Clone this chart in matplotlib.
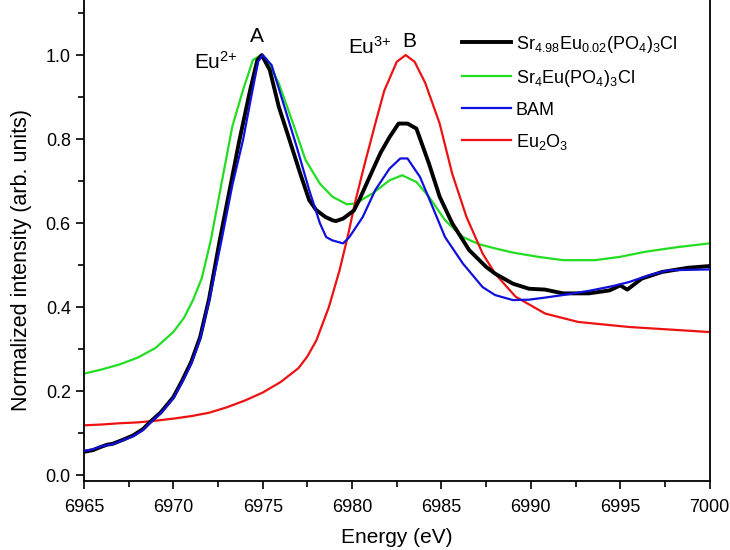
import numpy as np
import matplotlib
matplotlib.use("Agg")
import matplotlib.pyplot as plt

plt.rcParams['font.family'] = ['Liberation Sans', 'DejaVu Sans']
plt.rcParams['mathtext.fontset'] = 'custom'
plt.rcParams['mathtext.rm'] = 'Liberation Sans'
plt.rcParams['mathtext.it'] = 'Liberation Sans:italic'

# Sr4.98Eu0.02(PO4)3Cl (black)
x_blk = [6965, 6965.5, 6965.9, 6966.3, 6966.6, 6967.2, 6967.75, 6968.3, 6968.7, 6969.3,
         6970.0, 6970.5, 6971.0, 6971.5, 6972.0, 6972.6, 6973.15, 6973.7, 6974.3, 6974.7,
         6974.95, 6975.4, 6975.9, 6976.5, 6977.1, 6977.6, 6978.0, 6978.5, 6978.9, 6979.1,
         6979.5, 6980.1, 6980.4, 6981.15, 6981.6, 6982.1, 6982.6, 6983.1, 6983.6, 6984.3,
         6984.9, 6985.6, 6986.55, 6987.5, 6988.0, 6989.0, 6989.9, 6990.8, 6991.8, 6993.25,
         6994.4, 6995.0, 6995.4, 6996.2, 6997.35, 6998.8, 7000.0]
y_blk = [0.056, 0.060, 0.067, 0.073, 0.075, 0.085, 0.095, 0.110, 0.127, 0.150,
         0.186, 0.226, 0.270, 0.329, 0.420, 0.560, 0.679, 0.798, 0.917, 0.988,
         1.0, 0.964, 0.877, 0.798, 0.718, 0.655, 0.631, 0.615, 0.607, 0.605,
         0.611, 0.630, 0.655, 0.726, 0.768, 0.805, 0.837, 0.837, 0.825, 0.742,
         0.663, 0.600, 0.536, 0.496, 0.480, 0.456, 0.444, 0.442, 0.433, 0.433,
         0.440, 0.452, 0.442, 0.468, 0.484, 0.494, 0.498]

# Sr4Eu(PO4)3Cl (green)
x_grn = [6965, 6966, 6967, 6968, 6969, 6970, 6970.6, 6971.1, 6971.6, 6972.1,
         6972.8, 6973.3, 6973.9, 6974.45, 6974.9, 6975.2, 6975.9, 6976.7, 6977.4, 6978.2,
         6978.9, 6979.7, 6980.2, 6981.15, 6982.1, 6982.8, 6983.6, 6984.3, 6985.2, 6986.2,
         6987.1, 6988.0, 6989.0, 6990.4, 6991.8, 6993.6, 6995.0, 6996.4, 6998.2, 7000.0]
y_grn = [0.242, 0.252, 0.264, 0.280, 0.303, 0.341, 0.375, 0.417, 0.470, 0.560,
         0.718, 0.830, 0.917, 0.988, 1.0, 0.992, 0.933, 0.837, 0.750, 0.694,
         0.663, 0.645, 0.647, 0.671, 0.702, 0.714, 0.698, 0.663, 0.607, 0.567,
         0.550, 0.540, 0.530, 0.520, 0.512, 0.512, 0.520, 0.532, 0.543, 0.552]

# BAM (blue)
x_blu = [6965, 6965.5, 6965.9, 6966.3, 6966.6, 6967.2, 6967.75, 6968.3, 6968.7, 6969.3,
         6970.0, 6970.5, 6971.0, 6971.5, 6972.0, 6972.7, 6973.3, 6973.9, 6974.4, 6974.75,
         6975.0, 6975.5, 6976.1, 6976.9, 6977.6, 6978.2, 6978.55, 6978.9, 6979.5, 6979.85,
         6980.6, 6981.3, 6982.1, 6982.7, 6983.1, 6983.8, 6984.5, 6985.2, 6986.2, 6987.3,
         6988.0, 6989.0, 6989.9, 6990.8, 6991.8, 6993.25, 6994.55, 6995.5, 6996.6, 6997.7,
         7000.0]
y_blu = [0.058, 0.062, 0.068, 0.072, 0.074, 0.084, 0.093, 0.108, 0.125, 0.148,
         0.184, 0.222, 0.265, 0.325, 0.415, 0.560, 0.690, 0.798, 0.910, 0.985,
         1.0, 0.976, 0.893, 0.782, 0.679, 0.600, 0.567, 0.559, 0.552, 0.567,
         0.615, 0.679, 0.730, 0.754, 0.754, 0.710, 0.639, 0.567, 0.504, 0.448,
         0.429, 0.417, 0.418, 0.423, 0.429, 0.439, 0.450, 0.460, 0.476, 0.488,
         0.490]

# Eu2O3 (red)
x_red = [6965, 6966, 6967, 6968, 6969, 6970, 6971, 6972, 6973, 6974,
         6975, 6976, 6977, 6977.5, 6978.0, 6978.7, 6979.3, 6979.75, 6980.2, 6980.7,
         6981.35, 6981.8, 6982.5, 6983.0, 6983.5, 6984.1, 6984.9, 6985.6, 6986.4, 6987.3,
         6988.0, 6989.15, 6990.8, 6992.65, 6995.5, 7000.0]
y_red = [0.119, 0.121, 0.124, 0.126, 0.130, 0.135, 0.141, 0.149, 0.162, 0.178,
         0.197, 0.222, 0.255, 0.283, 0.321, 0.400, 0.488, 0.567, 0.655, 0.740,
         0.845, 0.915, 0.984, 1.0, 0.984, 0.933, 0.837, 0.718, 0.615, 0.528,
         0.480, 0.425, 0.385, 0.365, 0.353, 0.341]

labels = [r'Sr$_{4.98}$Eu$_{0.02}$(PO$_4$)$_3$Cl', r'Sr$_4$Eu(PO$_4$)$_3$Cl',
          'BAM', r'Eu$_2$O$_3$']

fig = plt.figure(figsize=(7.3, 5.5), dpi=100)
ax = fig.add_axes([0.115, 0.125, 0.857, 0.875])

ax.plot(x_blk, y_blk, color='black', lw=2.8, label=labels[0], zorder=3)
ax.plot(x_grn, y_grn, color='#22dd22', lw=1.6, label=labels[1], zorder=2)
ax.plot(x_blu, y_blu, color='#1010dd', lw=1.6, label=labels[2], zorder=4)
ax.plot(x_red, y_red, color='#ee1111', lw=1.6, label=labels[3], zorder=2)

ax.text(6974.7, 1.043, 'A', fontsize=15, ha='center', va='center')
ax.text(6972.4, 0.984, r'Eu$^{\text{2+}}$', fontsize=15, ha='center', va='center')
ax.text(6981.0, 1.02, r'Eu$^{\text{3+}}$', fontsize=15, ha='center', va='center')
ax.text(6983.2, 1.032, 'B', fontsize=15, ha='center', va='center')

ax.set_xlim(6965, 7000)
ax.set_ylim(-0.014, 1.131)
ax.set_xticks(np.arange(6965, 7001, 5))
ax.set_xticks(np.arange(6965, 7001, 2.5), minor=True)
ax.set_yticks(np.arange(0, 1.01, 0.2))
ax.set_yticks(np.arange(0, 1.11, 0.1), minor=True)
ax.set_yticklabels(['0.0', '0.2', '0.4', '0.6', '0.8', '1.0'])
ax.tick_params(which='both', direction='out', labelsize=13, width=1.2)
ax.tick_params(axis='x', pad=7)
ax.tick_params(which='major', length=6)
ax.tick_params(which='minor', length=4)
ax.spines['top'].set_visible(False)
for s in ['left', 'right', 'bottom']:
    ax.spines[s].set_linewidth(1.3)

ax.set_xlabel('Energy (eV)', fontsize=15)
ax.xaxis.set_label_coords(0.5, -0.098)
ax.set_ylabel('Normalized intensity (arb. units)', fontsize=15.5)
ax.yaxis.set_label_coords(-0.083, 0.46)

ax.legend(loc='upper left', frameon=False, fontsize=13, handlelength=2.7,
          handletextpad=0.3, labelspacing=0.72, borderpad=0, borderaxespad=0,
          bbox_to_anchor=(0.604, 0.93))

fig.savefig('out.png', dpi=100)
